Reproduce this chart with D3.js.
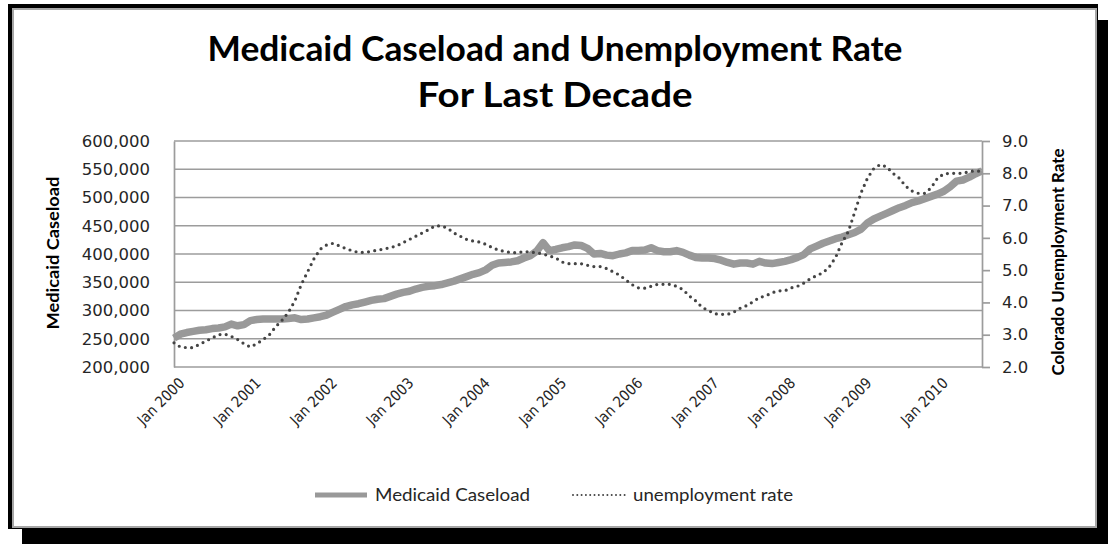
<!DOCTYPE html>
<html>
<head>
<meta charset="utf-8">
<script src="https://cdn.jsdelivr.net/npm/d3@7"></script>
<style>
  body { margin: 0; background: #fff; }
  svg { display: block; }
  .tick text { fill: #262626; }
</style>
</head>
<body>
<svg id="chart"></svg>
<script>
// monthly figures, Jan 2000 .. Aug 2010
var startMonth = new Date(2000, 0, 1);
var monthCount = 128;

var caseload = [
  251000, 258000, 261000, 263000, 265000, 266000, 268000, 269000, 271000, 276000, 273000, 275000,
  282000, 284000, 285000, 285000, 285000, 285000, 286000, 287000, 284000, 285000, 287000, 289000,
  292000, 297000, 302000, 307000, 310000, 312000, 315000, 318000, 320000, 321000, 325000, 329000,
  332000, 334000, 338000, 341000, 343000, 344000, 346000, 349000, 352000, 356000, 360000, 364000,
  367000, 372000, 380000, 384000, 385000, 386000, 388000, 393000, 397000, 405000, 420000, 406000,
  408000, 411000, 413000, 416000, 415000, 410000, 400000, 401000, 398000, 397000, 400000, 402000,
  406000, 406000, 407000, 411000, 406000, 404000, 404000, 406000, 403000, 398000, 394000, 393000,
  393000, 392000, 389000, 385000, 382000, 384000, 384000, 382000, 387000, 384000, 383000, 385000,
  387000, 390000, 394000, 399000, 409000, 414000, 419000, 423000, 427000, 430000, 434000, 438000,
  444000, 455000, 462000, 467000, 472000, 477000, 482000, 486000, 491000, 494000, 498000, 502000,
  506000, 511000, 519000, 529000, 531000, 536000, 542000, 547000
];

var unemployment = [
  2.75, 2.62, 2.6, 2.6, 2.7, 2.8, 2.9, 3.0, 3.02, 2.95, 2.85, 2.72,
  2.62, 2.72, 2.85, 3.0, 3.25, 3.45, 3.7, 4.05, 4.55, 4.95, 5.35, 5.65,
  5.78, 5.83, 5.75, 5.67, 5.6, 5.55, 5.55, 5.58, 5.62, 5.65, 5.7, 5.75,
  5.85, 5.95, 6.05, 6.15, 6.25, 6.37, 6.37, 6.3, 6.15, 6.05, 5.95, 5.9,
  5.87, 5.8, 5.7, 5.62, 5.58, 5.54, 5.54, 5.58, 5.56, 5.54, 5.5, 5.44,
  5.38, 5.25, 5.2, 5.2, 5.2, 5.15, 5.11, 5.11, 5.05, 4.95, 4.85, 4.7,
  4.55, 4.45, 4.44, 4.5, 4.56, 4.56, 4.56, 4.5, 4.4, 4.2, 4.05, 3.85,
  3.75, 3.65, 3.63, 3.63, 3.7, 3.82, 3.9, 4.02, 4.15, 4.2, 4.3, 4.36,
  4.36, 4.45, 4.5, 4.6, 4.73, 4.83, 4.92, 5.1, 5.4, 5.85, 6.2, 6.8,
  7.4, 7.85, 8.15, 8.27, 8.2, 8.0, 7.85, 7.6, 7.45, 7.38, 7.38, 7.55,
  7.85, 7.98, 8.0, 8.0, 8.0, 8.05, 8.08, 8.05
];

var xTickLabels = ['Jan 2000', 'Jan 2001', 'Jan 2002', 'Jan 2003', 'Jan 2004', 'Jan 2005',
  'Jan 2006', 'Jan 2007', 'Jan 2008', 'Jan 2009', 'Jan 2010'];
var leftTicks = [200000, 250000, 300000, 350000, 400000, 450000, 500000, 550000, 600000];
var rightTicks = [2, 3, 4, 5, 6, 7, 8, 9];

var titleLines = ['Medicaid Caseload and Unemployment Rate', 'For Last Decade'];
var seriesNames = ['Medicaid Caseload', 'unemployment rate'];

var fmtMonth = d3.timeFormat('%b %Y');
var months = d3.range(monthCount).map(i => fmtMonth(d3.timeMonth.offset(startMonth, i)));

var W = 1108, H = 544;
var plot = {left: 174, right: 982, top: 141, bottom: 367};
var labelFont = '"DejaVu Sans", sans-serif';
var titleFont = 'Lato, "Open Sans", sans-serif';

var svg = d3.select('#chart').attr('width', W).attr('height', H);

// frame with drop shadow
svg.append('rect').attr('x', 22).attr('y', 20).attr('width', W - 22).attr('height', H - 20).attr('fill', '#000');
svg.append('rect').attr('x', 8).attr('y', 4).attr('width', 1090).attr('height', 525).attr('fill', '#000');
svg.append('rect').attr('x', 13).attr('y', 9).attr('width', 1083).attr('height', 518)
  .attr('fill', '#fff').attr('stroke', '#a6a6a6').attr('stroke-width', 2);

var x = d3.scalePoint().domain(months).range([plot.left, plot.right]);
var yL = d3.scaleLinear().domain([200000, 600000]).range([plot.bottom, plot.top]);
var yR = d3.scaleLinear().domain([2, 9]).range([plot.bottom, plot.top]);

// gridlines
svg.append('g').selectAll('line')
  .data(leftTicks)
  .enter().append('line')
  .attr('x1', plot.left).attr('x2', plot.right)
  .attr('y1', d => yL(d)).attr('y2', d => yL(d))
  .attr('stroke', '#9c9c9c').attr('stroke-width', 1.7);

var leftAxis = svg.append('g')
  .attr('transform', `translate(${ plot.left }, 0)`)
  .call(d3.axisLeft(yL).tickValues(leftTicks).tickFormat(d3.format(',')).tickSize(0).tickPadding(24));
leftAxis.select('.domain').attr('stroke', '#9c9c9c').attr('stroke-width', 1.7);
leftAxis.selectAll('text').style('font-family', labelFont).style('font-size', '16.5px');

var rightAxis = svg.append('g')
  .attr('transform', `translate(${ plot.right }, 0)`)
  .call(d3.axisRight(yR).tickValues(rightTicks).tickFormat(d3.format('.1f')).tickSize(8).tickSizeOuter(0).tickPadding(12));
rightAxis.selectAll('.domain, line').attr('stroke', '#9c9c9c').attr('stroke-width', 1.7);
rightAxis.selectAll('text').style('font-family', labelFont).style('font-size', '16.5px');

var bottomAxis = svg.append('g')
  .attr('transform', `translate(0, ${ plot.bottom })`)
  .call(d3.axisBottom(x).tickValues(xTickLabels).tickSize(0));
bottomAxis.select('.domain').remove();
bottomAxis.selectAll('text')
  .attr('x', 0).attr('y', 0).attr('dy', null)
  .attr('transform', 'translate(11, 17) rotate(-45)')
  .style('text-anchor', 'end')
  .style('font-family', '"DejaVu Sans Condensed", "DejaVu Sans", sans-serif').style('font-size', '15px');

// series
var caseLine = d3.line()
  .x((d, i) => x(months[i]))
  .y(d => yL(d));
var rateLine = d3.line()
  .x((d, i) => x(months[i]))
  .y(d => yR(d));

svg.append('path')
  .datum(caseload)
  .attr('d', caseLine)
  .attr('fill', 'none')
  .attr('stroke', '#999999')
  .attr('stroke-width', 7.5)
  .attr('stroke-linejoin', 'round');

svg.append('path')
  .datum(unemployment)
  .attr('d', rateLine)
  .attr('fill', 'none')
  .attr('stroke', '#444444')
  .attr('stroke-width', 3.2)
  .attr('stroke-linecap', 'round')
  .attr('stroke-dasharray', '0 6.3');

// titles
var title = svg.append('g').attr('font-family', titleFont).attr('font-weight', 'bold')
  .attr('font-size', 35).attr('fill', '#000').attr('text-anchor', 'middle');
title.append('text').attr('x', 555).attr('y', 61).attr('textLength', 695)
  .attr('lengthAdjust', 'spacingAndGlyphs').text(titleLines[0]);
title.append('text').attr('x', 555).attr('y', 107).attr('textLength', 275)
  .attr('lengthAdjust', 'spacingAndGlyphs').text(titleLines[1]);

svg.append('text')
  .attr('transform', 'translate(59, 253) rotate(-90)')
  .attr('text-anchor', 'middle')
  .attr('font-family', titleFont).attr('font-weight', 'bold').attr('font-size', 17)
  .attr('textLength', 153).attr('lengthAdjust', 'spacingAndGlyphs')
  .text('Medicaid Caseload');

svg.append('text')
  .attr('transform', 'translate(1064, 262) rotate(-90)')
  .attr('text-anchor', 'middle')
  .attr('font-family', titleFont).attr('font-weight', 'bold').attr('font-size', 17)
  .attr('textLength', 227).attr('lengthAdjust', 'spacingAndGlyphs')
  .text('Colorado Unemployment Rate');

// legend
var legend = svg.append('g').attr('font-family', titleFont).attr('font-size', 18).attr('fill', '#262626');
legend.append('line').attr('x1', 315).attr('x2', 367).attr('y1', 495).attr('y2', 495)
  .attr('stroke', '#999999').attr('stroke-width', 5);
legend.append('text').attr('x', 375).attr('y', 501).attr('textLength', 155)
  .attr('lengthAdjust', 'spacingAndGlyphs').text(seriesNames[0]);
legend.append('line').attr('x1', 573).attr('x2', 625).attr('y1', 495).attr('y2', 495)
  .attr('stroke', '#444444').attr('stroke-width', 2).attr('stroke-linecap', 'round').attr('stroke-dasharray', '0 4.3');
legend.append('text').attr('x', 633).attr('y', 501).attr('textLength', 160)
  .attr('lengthAdjust', 'spacingAndGlyphs').text(seriesNames[1]);
</script>
</body>
</html>
